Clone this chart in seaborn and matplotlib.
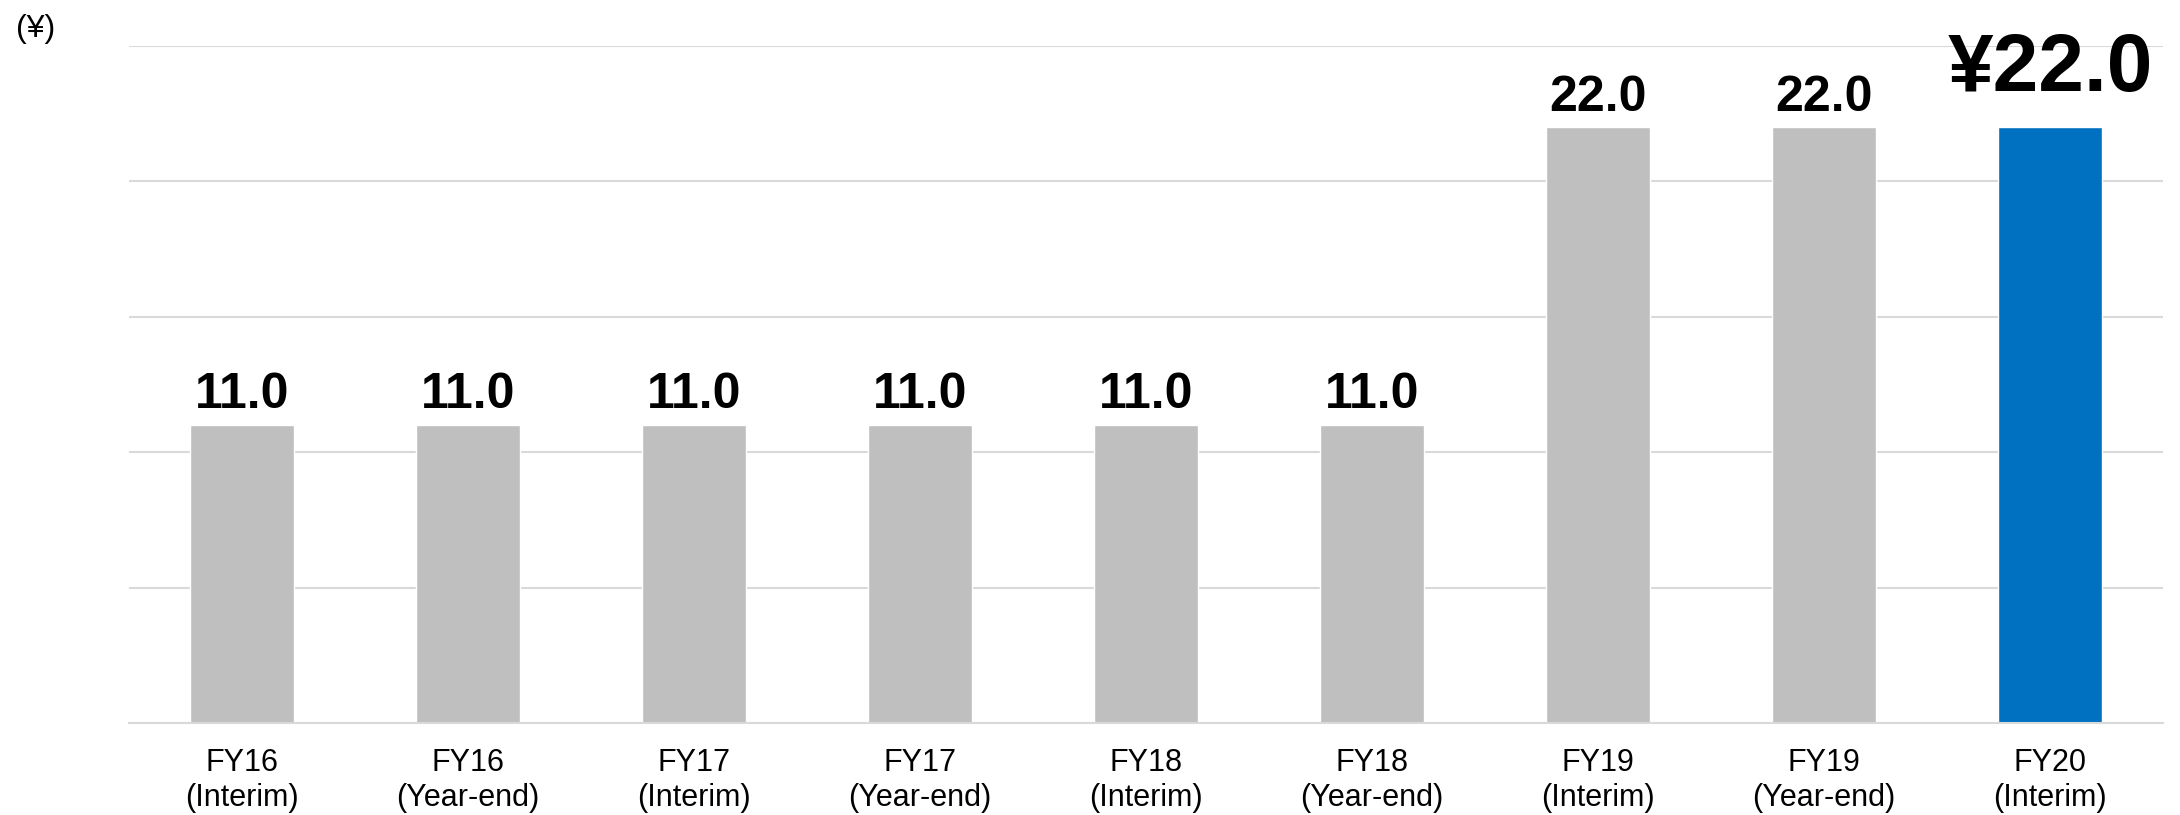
import pandas as pd
import seaborn as sns
import matplotlib.pyplot as plt

periods = ["FY16\n(Interim)", "FY16\n(Year-end)", "FY17\n(Interim)", "FY17\n(Year-end)",
           "FY18\n(Interim)", "FY18\n(Year-end)", "FY19\n(Interim)", "FY19\n(Year-end)",
           "FY20\n(Interim)"]
dividends = [11.0, 11.0, 11.0, 11.0, 11.0, 11.0, 22.0, 22.0, 22.0]
bar_colors = ["#bfbfbf"] * 8 + ["#0070c0"]

df = pd.DataFrame({"period": periods, "dividend": dividends})

sns.set_style("white")
plt.rcParams['font.family'] = ['Liberation Sans', 'DejaVu Sans']
plt.rcParams['text.color'] = "black"

fig = plt.figure(figsize=(21.8, 8.15), dpi=100)
ax = fig.add_axes([0.0592, 0.1129, 0.933, 0.8307])

sns.barplot(data=df, x="period", y="dividend", hue="period", palette=bar_colors,
            width=0.46, legend=False, saturation=1, ax=ax)

ax.set_ylim(0, 25)
ax.set_xlim(-0.5, len(periods) - 0.5)
ax.set_yticks([0, 5, 10, 15, 20, 25])
ax.set_yticklabels([])
ax.yaxis.grid(True, color="#d9d9d9", linewidth=1.5)
ax.set_axisbelow(True)
for s in ["top", "right", "left"]:
    ax.spines[s].set_visible(False)
ax.spines["bottom"].set_color("#d9d9d9")
ax.spines["bottom"].set_linewidth(1.5)
ax.tick_params(axis="both", length=0)
ax.tick_params(axis="x", labelsize=22, pad=18, labelcolor="black")
ax.set_xlabel("")
ax.set_ylabel("")

for i, v in enumerate(dividends):
    if i == len(dividends) - 1:
        ax.annotate(f"¥{v:.1f}", (i, v), xytext=(0, 26), textcoords="offset points",
                    ha="center", va="baseline", fontsize=59, fontweight="bold",
                    color="black")
    else:
        ax.annotate(f"{v:.1f}", (i, v), xytext=(0, 12), textcoords="offset points",
                    ha="center", va="baseline", fontsize=36, fontweight="bold",
                    color="black")

fig.text(0.0165, 0.964, "(¥)", ha="center", va="center", fontsize=23, color="black")

fig.savefig("out.png", dpi=100)
